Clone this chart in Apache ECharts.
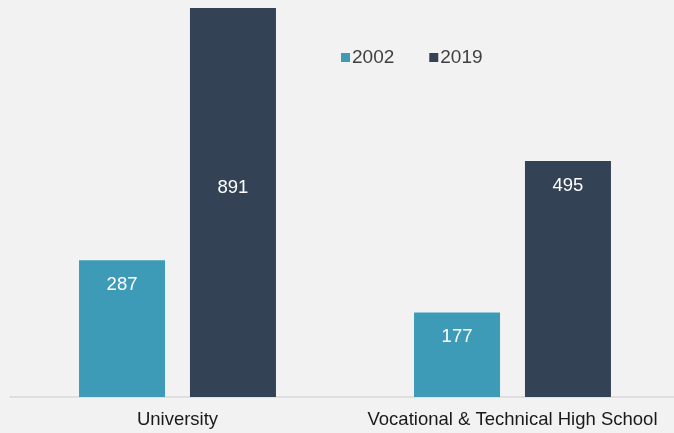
<!DOCTYPE html>
<html>
<head>
<meta charset="utf-8">
<script src="https://cdn.jsdelivr.net/npm/echarts@6/dist/echarts.min.js"></script>
<style>
  html, body { margin: 0; padding: 0; background: #f2f2f2; overflow: hidden; }
  #main { width: 680px; height: 433px; }
</style>
</head>
<body>
<div id="main"></div>
<script>
var categories = ['University', 'Vocational & Technical High School'];
var years = ['2002', '2019'];
var values2002 = [287, 177];
var values2019 = [891, 495];

var colors = ['#3e9bb8', '#344256'];

var myChart = echarts.init(document.getElementById('main'));

function labelled(arr) {
  // the tallest bar runs past the top of the plot, so its label sits in the visible part
  return arr.map(function (v) {
    if (v > 816) {
      return { value: v, label: { position: 'inside', offset: [0, -15] } };
    }
    return v;
  });
}

myChart.setOption({
  backgroundColor: '#f2f2f2',
  textStyle: { fontFamily: '"Liberation Sans", Arial, sans-serif' },
  legend: {
    data: years,
    left: 336,
    top: 43,
    itemWidth: 9,
    itemHeight: 9,
    itemGap: 35,
    icon: 'rect',
    textStyle: { fontSize: 19, color: '#404040', padding: [0, 0, 0, -3] }
  },
  grid: { left: 10, right: 0, top: 8, bottom: 36, containLabel: false },
  xAxis: {
    type: 'category',
    data: categories,
    axisLine: { lineStyle: { color: '#d9d9d9', width: 1.5 } },
    axisTick: { show: false },
    axisLabel: { color: '#1a1a1a', fontSize: 18.5, margin: 13, interval: 0 }
  },
  yAxis: {
    type: 'value',
    min: 0,
    max: 816,
    show: false,
    splitLine: { show: false }
  },
  series: [{
    name: years[0],
    type: 'bar',
    barWidth: 86,
    barGap: '29%',
    itemStyle: { color: colors[0] },
    label: { show: true, position: 'insideTop', distance: 15, color: '#fff', fontSize: 18.5 },
    data: labelled(values2002)
  }, {
    name: years[1],
    type: 'bar',
    barWidth: 86,
    barGap: '29%',
    itemStyle: { color: colors[1] },
    label: { show: true, position: 'insideTop', distance: 15, color: '#fff', fontSize: 18.5 },
    data: labelled(values2019)
  }]
});
</script>
</body>
</html>
